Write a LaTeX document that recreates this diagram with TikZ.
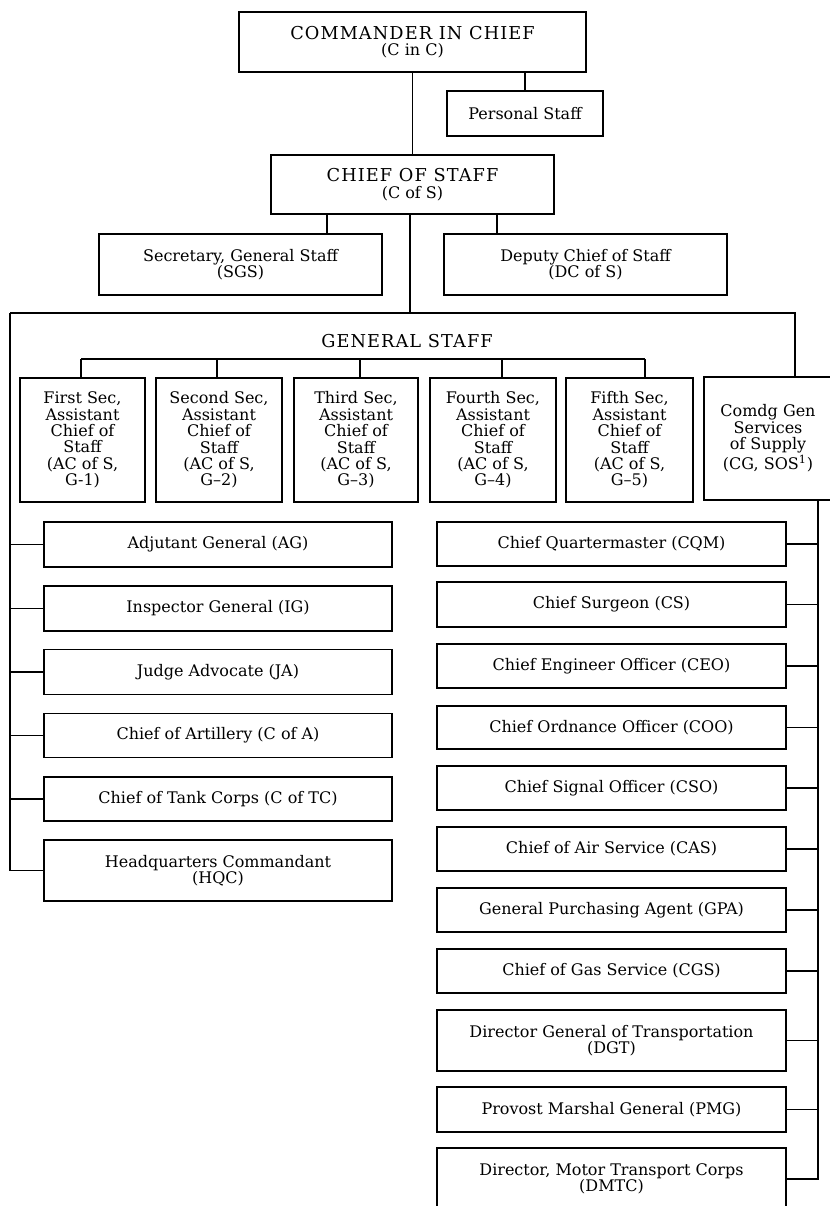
\documentclass[tikz,border=0pt]{standalone}
\usepackage{fontspec}
\setmainfont{DejaVu Serif}
\newcommand\hdcaps[1]{{\fontsize{10.1}{10.5}\selectfont\addfontfeature{LetterSpace=6}#1}}
\begin{document}
\begin{tikzpicture}[x=0.02cm,y=-0.02cm,line width=0.7pt,
      font=\fontsize{9.1}{9.3}\selectfont,
      office/.style 2 args={draw,align=center,inner sep=0pt,
        minimum width={#1*0.02cm},minimum height={#2*0.02cm}}]
      \useasboundingbox (0,0) rectangle (829,1206);
      % top of the chain
      \node[office={347}{60}] (cinc) at (412.5,42) {\hdcaps{COMMANDER IN CHIEF}\\(C in C)};
      \node[office={156}{45}] (pers) at (525,113.5) {Personal Staff};
      \node[office={283}{59}] (cofs) at (412.5,184.5) {\hdcaps{CHIEF OF STAFF}\\(C of S)};
      \node[office={283}{61}] (sgs) at (240.5,264.5) {Secretary, General Staff\\(SGS)};
      \node[office={283}{61}] (dcofs) at (585.5,264.5) {Deputy Chief of Staff\\(DC of S)};
      \draw (cinc) -- (cofs);
      \draw (cinc.south -| pers) -- (pers);
      \coordinate (sgsdrop) at (327,214);
      \coordinate (dcofsdrop) at (497,214);
      \draw (sgsdrop) -- (sgsdrop |- sgs.north);
      \draw (dcofsdrop) -- (dcofsdrop |- dcofs.north);
      % general staff
      \coordinate (trunk) at (410,313);
      \coordinate (gsleft) at (10,313);
      \coordinate (gsright) at (795,313);
      \node (gslabel) at (407,341) {\hdcaps{GENERAL STAFF}};
      \node[office={125}{124}] (g1) at (82.5,440) {First Sec,\\Assistant\\Chief of\\Staff\\(AC of S,\\G-1)};
      \node[office={126}{124}] (g2) at (219,440) {Second Sec,\\Assistant\\Chief of\\Staff\\(AC of S,\\G--2)};
      \node[office={124}{124}] (g3) at (356,440) {Third Sec,\\Assistant\\Chief of\\Staff\\(AC of S,\\G--3)};
      \node[office={126}{124}] (g4) at (493,440) {Fourth Sec,\\Assistant\\Chief of\\Staff\\(AC of S,\\G--4)};
      \node[office={127}{124}] (g5) at (629.5,440) {Fifth Sec,\\Assistant\\Chief of\\Staff\\(AC of S,\\G--5)};
      \node[office={128}{123}] (comdg) at (768,438.5) {Comdg Gen\\Services\\of Supply\\(CG, SOS\textsuperscript{1})};
      \draw (cofs.south -| trunk) -- (trunk);
      \draw (comdg.north -| gsright) -- (gsright) -- (gsleft);
      \coordinate (busl) at (81,359);
      \coordinate (busr) at (645,359);
      \draw (busl) -- (busr);
      \draw (busl) -- (busl |- g1.north);
      \draw (217,359) -- (217,359 |- g2.north);
      \draw (360,359) -- (360,359 |- g3.north);
      \draw (502,359) -- (502,359 |- g4.north);
      \draw (busr) -- (busr |- g5.north);
      % special staff, left
      \node[office={348}{45}] (ag) at (218,544.5) {Adjutant General (AG)};
      \node[office={348}{45}] (ig) at (218,608.5) {Inspector General (IG)};
      \node[office={348}{45}] (ja) at (218,672) {Judge Advocate (JA)};
      \node[office={348}{44}] (ca) at (218,735.5) {Chief of Artillery (C of A)};
      \node[office={348}{44}] (ctc) at (218,799) {Chief of Tank Corps (C of TC)};
      \node[office={348}{61}] (hqc) at (218,870.5) {Headquarters Commandant\\(HQC)};
      \draw (gsleft) -- (gsleft |- hqc.west) -- (hqc.west);
      \draw (gsleft |- ag.west) -- (ag.west);
      \draw (gsleft |- ig.west) -- (ig.west);
      \draw (gsleft |- ja.west) -- (ja.west);
      \draw (gsleft |- ca.west) -- (ca.west);
      \draw (gsleft |- ctc.west) -- (ctc.west);
      % services of supply, right
      \node[office={349}{44}] (cqm) at (611.5,544) {Chief Quartermaster (CQM)};
      \node[office={349}{45}] (cs) at (611.5,604.5) {Chief Surgeon (CS)};
      \node[office={349}{44}] (ceo) at (611.5,666) {Chief Engineer Officer (CEO)};
      \node[office={349}{43}] (coo) at (611.5,727.5) {Chief Ordnance Officer (COO)};
      \node[office={349}{44}] (cso) at (611.5,788) {Chief Signal Officer (CSO)};
      \node[office={349}{44}] (cas) at (611.5,849) {Chief of Air Service (CAS)};
      \node[office={349}{44}] (gpa) at (611.5,910) {General Purchasing Agent (GPA)};
      \node[office={349}{44}] (cgs) at (611.5,971) {Chief of Gas Service (CGS)};
      \node[office={349}{61}] (dgt) at (611.5,1040.5) {Director General of Transportation\\(DGT)};
      \node[office={349}{45}] (pmg) at (611.5,1109.5) {Provost Marshal General (PMG)};
      \node[office={349}{62}] (dmtc) at (611.5,1179) {Director, Motor Transport Corps\\(DMTC)};
      \coordinate (sosline) at (818,500);
      \draw (comdg.south -| sosline) -- (sosline |- dmtc.east) -- (dmtc.east);
      \draw (cqm.east) -- (sosline |- cqm.east);
      \draw (cs.east) -- (sosline |- cs.east);
      \draw (ceo.east) -- (sosline |- ceo.east);
      \draw (coo.east) -- (sosline |- coo.east);
      \draw (cso.east) -- (sosline |- cso.east);
      \draw (cas.east) -- (sosline |- cas.east);
      \draw (gpa.east) -- (sosline |- gpa.east);
      \draw (cgs.east) -- (sosline |- cgs.east);
      \draw (dgt.east) -- (sosline |- dgt.east);
      \draw (pmg.east) -- (sosline |- pmg.east);
     \end{tikzpicture}
\end{document}
